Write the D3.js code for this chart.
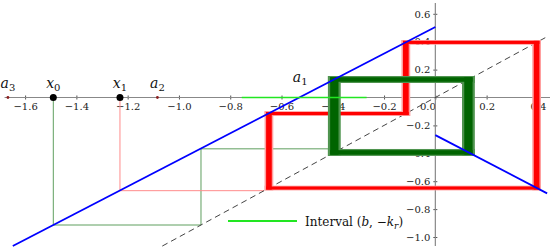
<!DOCTYPE html>
<html>
<head>
<meta charset="utf-8">
<script src="https://cdn.jsdelivr.net/npm/d3@7"></script>
<style>
  body { margin: 0; background: #fff; }
  svg { display: block; }
  .tick text { font-family: "DejaVu Serif", "Liberation Serif", serif; font-size: 10px; fill: #222; }
  .lbl { font-family: "DejaVu Serif", "Liberation Serif", serif; fill: #111; }
</style>
</head>
<body>
<div class="chart"></div>
<script>
var svgWidth = 550;
var svgHeight = 249;

// tick values
var xTicks = [-1.6, -1.4, -1.2, -1, -0.8, -0.6, -0.4, -0.2, 0, 0.2, 0.4];
var yTicks = [-1, -0.8, -0.6, -0.4, -0.2, 0.2, 0.4, 0.6];

// extent of the axis lines
var xAxisExtent = [-1.68, 0.45];
var yAxisExtent = [-1.065, 0.677];

// the map: left branch and right branch end points
var leftBranch = [[-1.648, -1.065], [0, 0.505]];
var rightBranch = [[0, -0.27], [0.436, -0.687]];

// diagonal y = x
var diagonal = [-1.065, 0.44];

// interval (b, -k_r) on the x axis
var interval = [-0.755, -0.268];

// orbits
var x0Orbit = [-1.49, -0.914, -0.368];
var x1Orbit = [-1.23, -0.668];
var greenCycle = [0.129, -0.394];
var redCycle = [0.395, -0.649, -0.115];

// labelled points on the x axis
var axisPoints = [
  { name: "a", sub: "3", x: -1.667, kind: "mark" },
  { name: "x", sub: "0", x: -1.49, kind: "dot" },
  { name: "x", sub: "1", x: -1.23, kind: "dot" },
  { name: "a", sub: "2", x: -1.084, kind: "mark" },
  { name: "a", sub: "1", x: -0.527, kind: "none" }
];

var svg = d3.select(".chart")
  .append("svg")
  .attr("width", svgWidth)
  .attr("height", svgHeight);

var x = d3.scaleLinear().domain([-1.6, 0.4]).range([25.1, 537.9]);
var y = d3.scaleLinear().domain([-1, 0.6]).range([237, 13.8]);

// axes
var xAxisG = svg.append("g")
  .attr("transform", `translate(0, ${y(0)})`)
  .call(d3.axisBottom(x).tickValues(xTicks).tickSizeInner(2).tickSizeOuter(0).tickPadding(3));
xAxisG.attr("font-family", null).attr("font-size", null);
xAxisG.select(".domain").remove();
xAxisG.selectAll(".tick line").attr("y1", -2).attr("y2", 2).attr("stroke", "#555");
xAxisG.selectAll(".tick").filter(d => d === 0).select("text").attr("dx", -8);

var yAxisG = svg.append("g")
  .attr("transform", `translate(${x(0)}, 0)`)
  .call(d3.axisLeft(y).tickValues(yTicks).tickSizeInner(2).tickSizeOuter(0).tickPadding(3));
yAxisG.attr("font-family", null).attr("font-size", null);
yAxisG.select(".domain").remove();
yAxisG.selectAll(".tick line").attr("x1", -2).attr("x2", 2).attr("stroke", "#555");

svg.append("line")
  .attr("x1", x(xAxisExtent[0])).attr("x2", x(xAxisExtent[1]))
  .attr("y1", y(0)).attr("y2", y(0))
  .attr("stroke", "#888").attr("stroke-width", 1.2);
svg.append("line")
  .attr("x1", x(0)).attr("x2", x(0))
  .attr("y1", y(yAxisExtent[1])).attr("y2", y(yAxisExtent[0]))
  .attr("stroke", "#888").attr("stroke-width", 1.2);

var line = d3.line().x(d => x(d[0])).y(d => y(d[1]));

// cobweb path for the thin transient
function cobweb(orbit) {
  var pts = [[orbit[0], 0]];
  for (var i = 0; i < orbit.length - 1; i++) {
    pts.push([orbit[i], orbit[i + 1]]);
    pts.push([orbit[i + 1], orbit[i + 1]]);
  }
  return pts;
}

svg.append("path")
  .attr("d", line(cobweb(x0Orbit)))
  .attr("fill", "none").attr("stroke", "#5f9f5f").attr("stroke-width", 1);
svg.append("path")
  .attr("d", line(cobweb(x1Orbit)))
  .attr("fill", "none").attr("stroke", "#ff8c8c").attr("stroke-width", 1);

// diagonal
svg.append("line")
  .attr("x1", x(diagonal[0])).attr("y1", y(diagonal[0]))
  .attr("x2", x(diagonal[1])).attr("y2", y(diagonal[1]))
  .attr("stroke", "#444").attr("stroke-width", 1)
  .attr("stroke-dasharray", "6,4");

// thick bands for the cycles, as rectangles in data units
function bandRects(cycle, h) {
  var rects = [];
  for (var i = 0; i < cycle.length; i++) {
    var c = cycle[i], n = cycle[(i + 1) % cycle.length];
    rects.push({ x0: c - h, x1: c + h, y0: Math.min(c, n) - h, y1: Math.max(c, n) + h });
    rects.push({ x0: Math.min(c, n) - h, x1: Math.max(c, n) + h, y0: n - h, y1: n + h });
  }
  return rects;
}

function drawBand(cycle, h, outer, inner) {
  var g = svg.append("g");
  g.selectAll("rect.outer")
    .data(bandRects(cycle, h))
    .enter().append("rect").attr("class", "outer")
    .attr("x", d => x(d.x0)).attr("width", d => x(d.x1) - x(d.x0))
    .attr("y", d => y(d.y1)).attr("height", d => y(d.y0) - y(d.y1))
    .attr("fill", outer);
  g.selectAll("rect.inner")
    .data(bandRects(cycle, h * 0.65))
    .enter().append("rect").attr("class", "inner")
    .attr("x", d => x(d.x0)).attr("width", d => x(d.x1) - x(d.x0))
    .attr("y", d => y(d.y1)).attr("height", d => y(d.y0) - y(d.y1))
    .attr("fill", inner);
}

drawBand(redCycle, 0.017, "#ff9e9e", "#ff0000");
drawBand(greenCycle, 0.025, "#4f944f", "#006400");

// the map branches
[leftBranch, rightBranch].forEach(function(b) {
  svg.append("path")
    .attr("d", line(b))
    .attr("fill", "none").attr("stroke", "#0000ff").attr("stroke-width", 1.8);
});

// interval
svg.append("line")
  .attr("x1", x(interval[0])).attr("x2", x(interval[1]))
  .attr("y1", y(0)).attr("y2", y(0))
  .attr("stroke", "#22e622").attr("stroke-width", 1.6);

// points and labels
var pg = svg.selectAll("g.pt")
  .data(axisPoints)
  .enter().append("g").attr("class", "pt")
  .attr("transform", d => `translate(${x(d.x)}, ${y(0)})`);

pg.filter(d => d.kind === "dot").append("circle")
  .attr("r", 3.5).attr("fill", "#000");
pg.filter(d => d.kind === "mark").append("circle")
  .attr("r", 1.4).attr("fill", "#8b2020");

var lab = pg.append("text")
  .attr("class", "lbl")
  .attr("y", d => d.name === "a" && d.sub === "1" ? -16 : -10)
  .attr("text-anchor", "middle")
  .style("font-size", "14px");
lab.append("tspan").style("font-style", "italic").text(d => d.name);
lab.append("tspan").attr("dy", 3).style("font-size", "10px").text(d => d.sub);

// legend
var legend = svg.append("g").attr("transform", "translate(228, 221)");
legend.append("line")
  .attr("x1", 0).attr("x2", 69)
  .attr("stroke", "#22e622").attr("stroke-width", 1.8);
var lt = legend.append("text")
  .attr("class", "lbl")
  .attr("x", 77).attr("y", 5)
  .style("font-size", "12px");
lt.append("tspan").text("Interval (");
lt.append("tspan").style("font-style", "italic").text("b");
lt.append("tspan").text(", \u2212");
lt.append("tspan").style("font-style", "italic").text("k");
lt.append("tspan").attr("dy", 3).style("font-size", "9px").style("font-style", "italic").text("r");
lt.append("tspan").attr("dy", -3).text(")");
</script>
</body>
</html>
